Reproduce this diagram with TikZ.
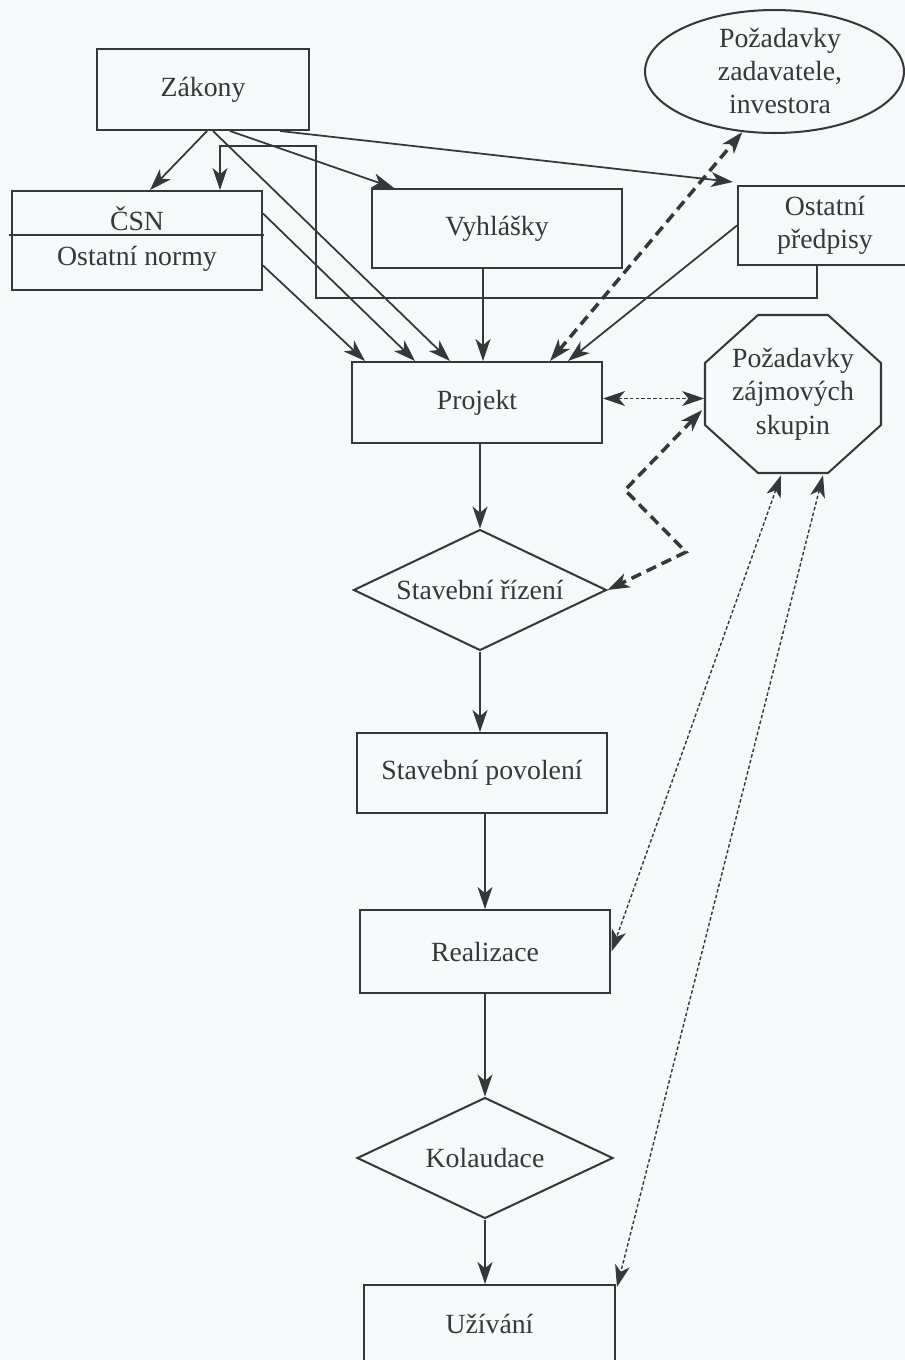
\documentclass[tikz,border=0pt]{standalone}
\usepackage{fontspec}
\setmainfont{Liberation Serif}
\usetikzlibrary{arrows.meta,shapes.geometric,calc}
\definecolor{ink}{RGB}{55,55,58}
\definecolor{paper}{RGB}{247,248,250}
\newcommand\diagfont{\fontsize{15.8}{19}\selectfont}
\begin{document}
\begin{tikzpicture}[x=0.02cm,y=-0.02cm,
  >={Stealth[length=12.5pt,width=8.5pt,inset=3.5pt]},
  box/.style={draw=ink, line width=1.15pt, rectangle, inner sep=0pt, text=ink, align=center, font=\diagfont},
  lbl/.style={inner sep=0pt, text=ink, align=center, font=\diagfont},
  dia/.style={diamond, draw=ink, line width=1.15pt, aspect=2, inner sep=1pt, text=ink, font=\diagfont},
  shapeline/.style={draw=ink, line width=1.15pt, line join=miter},
  conn/.style={draw=ink, line width=1pt, ->},
  thickdash/.style={draw=ink, line width=2pt, dash pattern=on 6pt off 3.5pt, <->},
  dotline/.style={draw=ink, line width=0.8pt, dash pattern=on 2pt off 1.3pt, <->}]
\fill[paper] (0,0) rectangle (905,1360);
\useasboundingbox (0,0) rectangle (905,1360);

% nodes
\node[box, minimum width=4.24cm, minimum height=1.62cm] (zak) at (203,89.5) {Zákony};
\node[box, minimum width=5cm, minimum height=1.98cm] (csn) at (137,240.5) {};
\node[lbl, anchor=base] (csnt) at (137,230) {ČSN};
\node[lbl, anchor=base] (onorm) at (137,265) {Ostatní normy};
\draw[shapeline] ($(csn.west)+(-2,-5.5)$) -- ($(csn.east)+(1,-5.5)$);
\node[box, minimum width=5cm, minimum height=1.58cm] (vyh) at (497,228.5) {Vyhlášky};
\node[ellipse, draw=ink, line width=1.15pt, minimum width=5.18cm, minimum height=2.46cm, inner sep=0pt] (ell) at (774.5,71.5) {};
\node[lbl] (ellt) at (780,71) {Požadavky\\zadavatele,\\investora};
\node[box, minimum width=3.48cm, minimum height=1.58cm] (opr) at (825,225.5) {Ostatní\\předpisy};
\node[box, minimum width=5cm, minimum height=1.62cm] (proj) at (477,402.5) {Projekt};
\node[lbl, minimum width=3.54cm, minimum height=3.16cm] (oct) at (793,394) {Požadavky\\zájmových\\skupin};
\draw[shapeline] ($(oct.center)+(-35,-79)$) -- ($(oct.center)+(35,-79)$) -- ($(oct.center)+(88,-31)$) -- ($(oct.center)+(88,31)$) -- ($(oct.center)+(35,79)$) -- ($(oct.center)+(-35,79)$) -- ($(oct.center)+(-88,31)$) -- ($(oct.center)+(-88,-31)$) -- cycle;
\node[dia, minimum width=5.06cm, minimum height=2.42cm] (sr) at (480,590) {Stavební řízení};
\node[box, minimum width=5cm, minimum height=1.6cm] (sp) at (482,773) {Stavební povolení};
\node[box, minimum width=5.02cm, minimum height=1.66cm] (real) at (485,951.5) {Realizace};
\node[dia, minimum width=5.12cm, minimum height=2.42cm] (kol) at (485,1158) {Kolaudace};
\node[box, minimum width=5.02cm, minimum height=1.54cm] (uzi) at (489.5,1323.5) {Užívání};

% connectors from Zakony
\draw[conn] ($(zak.south)+(4,0)$) -- ($(csn.north)+(13,0)$);
\draw[conn] ($(zak.south)+(27,0)$) -- ($(vyh.north west)+(23,0)$);
\draw[conn] ($(zak.south)+(77,0)$) -- ($(opr.north west)+(-4,-3)$);
\draw[conn] ($(zak.south)+(10,0)$) -- ($(proj.north)+(-27,0)$);
% into Projekt
\draw[conn] ($(csn.east)+(0,-27)$) -- ($(proj.north)+(-62,0)$);
\draw[conn] ($(csn.east)+(0,25)$) -- ($(proj.north)+(-112,0)$);
\draw[conn] ($(vyh.south)+(-14,0)$) -- ($(proj.north)+(6,0)$);
\draw[conn] (opr.west) -- ($(proj.north)+(91,0)$);
% Ostatni predpisy -> CSN (routed)
\coordinate (b1) at (316,298);
\coordinate (b2) at (316,146);
\draw[conn] ($(opr.south)+(-8,0)$) |- (b1) -- (b2) -| ($(csn.north)+(83,0)$);

% dashed / dotted relations
\draw[thickdash] ($(proj.north)+(73,0)$) -- (ell.242);
\coordinate (pe) at ($(proj.east)+(0,-4)$);
\draw[dotline] (pe) -- (pe -| oct.west);
\coordinate (k1) at (625,490);
\coordinate (k2) at (686,552);
\draw[thickdash] ($(oct.west)+(-2,16)$) -- (k1) -- (k2) -- (sr.east);
\draw[dotline] ($(oct.south)+(-12,2)$) -- (real.east);
\draw[dotline] ($(oct.south)+(30,2)$) -- ($(uzi.north east)+(1,3)$);

% main flow
\draw[conn] (sr.north |- proj.south) -- (sr.north);
\draw[conn] (sr.south) -- (sr.south |- sp.north);
\draw[conn] (real.north |- sp.south) -- (real.north);
\draw[conn] (real.south) -- (kol.north);
\draw[conn] (kol.south) -- (kol.south |- uzi.north);
\end{tikzpicture}
\end{document}
